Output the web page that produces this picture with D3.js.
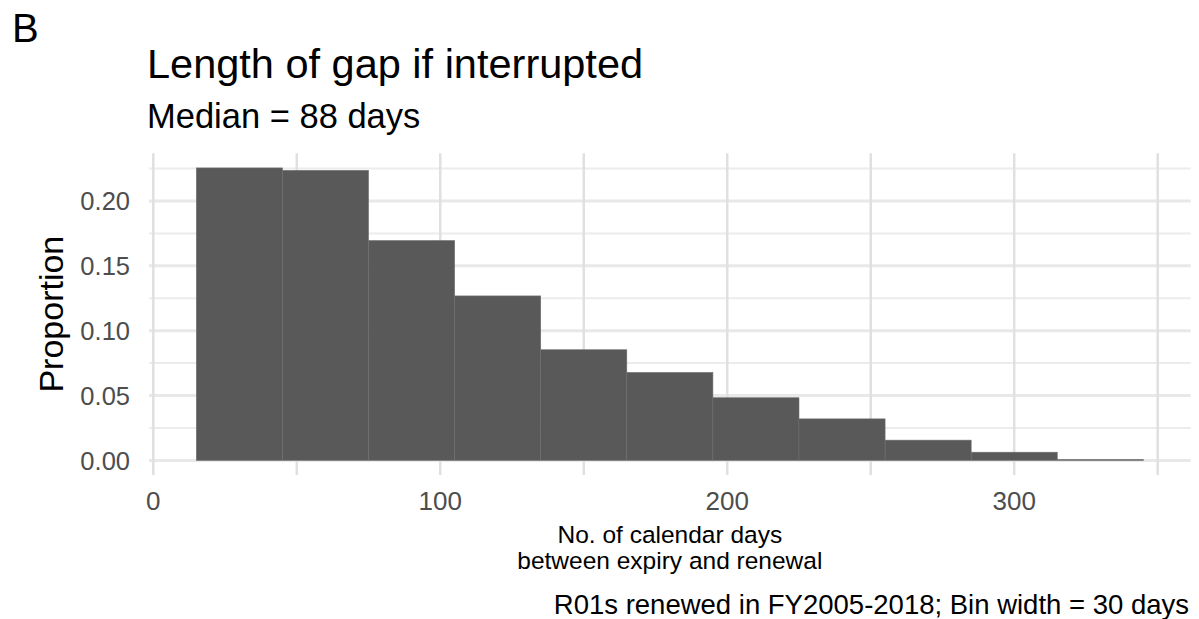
<!DOCTYPE html>
<html>
<head>
<meta charset="utf-8">
<script src="https://cdn.jsdelivr.net/npm/d3@7"></script>
<style>
  html, body { margin: 0; padding: 0; background: #fff; }
  svg { display: block; }
  text { font-family: "Liberation Sans", Arial, Helvetica, sans-serif; }
</style>
</head>
<body>
<svg id="chart" width="1199" height="619"></svg>
<script>
// ---- data ----
const binStarts = [15, 45, 75, 105, 135, 165, 195, 225, 255, 285, 315];
const binWidth = 30;
const proportions = [0.2255, 0.2236, 0.1695, 0.1268, 0.0853, 0.0678, 0.0483, 0.0320, 0.0156, 0.0063, 0.0007];
const xMajorTicks = [0, 100, 200, 300];
const xMinorTicks = [50, 150, 250, 350];
const yMajorTicks = [0, 0.05, 0.10, 0.15, 0.20];
const yMinorTicks = [0.025, 0.075, 0.125, 0.175, 0.225];
const yTickLabels = ["0.00", "0.05", "0.10", "0.15", "0.20"];
const panelTag = "B";
const titleText = "Length of gap if interrupted";
const subtitleText = "Median = 88 days";
const yTitle = "Proportion";
const xTitleLines = ["No. of calendar days", "between expiry and renewal"];
const captionText = "R01s renewed in FY2005-2018; Bin width = 30 days";

// ---- layout ----
const panel = { left: 149, right: 1190.7, top: 153.3, bottom: 475 };
const svg = d3.select("#chart");

const xMin = d3.min(binStarts), xMax = d3.max(binStarts) + binWidth;
const xPad = (xMax - xMin) * 0.05;
const x = d3.scaleLinear().domain([xMin - xPad, xMax + xPad]).range([panel.left, panel.right]);
const yMaxV = d3.max(proportions);
const y = d3.scaleLinear().domain([-0.05 * yMaxV, 1.05 * yMaxV]).range([panel.bottom, panel.top]);

// grid
const grid = svg.append("g");
grid.selectAll("line.hmin").data(yMinorTicks).join("line")
  .attr("x1", panel.left).attr("x2", panel.right)
  .attr("y1", d => y(d)).attr("y2", d => y(d))
  .attr("stroke", "#ececec").attr("stroke-width", 2);
grid.selectAll("line.hmaj").data(yMajorTicks).join("line")
  .attr("x1", panel.left).attr("x2", panel.right)
  .attr("y1", d => y(d)).attr("y2", d => y(d))
  .attr("stroke", "#e8e8e8").attr("stroke-width", 3);
grid.selectAll("line.vmin").data(xMinorTicks).join("line")
  .attr("y1", panel.top).attr("y2", panel.bottom)
  .attr("x1", d => x(d)).attr("x2", d => x(d))
  .attr("stroke", "#e0e0e0").attr("stroke-width", 2.5);
grid.selectAll("line.vmaj").data(xMajorTicks).join("line")
  .attr("y1", panel.top).attr("y2", panel.bottom)
  .attr("x1", d => x(d)).attr("x2", d => x(d))
  .attr("stroke", "#e0e0e0").attr("stroke-width", 2.5);

// bars
svg.append("g").selectAll("rect").data(binStarts).join("rect")
  .attr("x", d => x(d))
  .attr("width", d => x(d + binWidth) - x(d))
  .attr("y", (d, i) => y(proportions[i]))
  .attr("height", (d, i) => y(0) - y(proportions[i]))
  .attr("fill", "#595959")
  .attr("stroke", "#6e6e6e")
  .attr("stroke-width", 0.6);

// y axis labels
svg.append("g").selectAll("text").data(yMajorTicks).join("text")
  .attr("x", 130).attr("y", d => y(d))
  .attr("dy", "0.36em")
  .attr("text-anchor", "end")
  .attr("font-size", 25.5)
  .attr("fill", "#4d4d4d")
  .text((d, i) => yTickLabels[i]);

// x axis labels
svg.append("g").selectAll("text").data(xMajorTicks).join("text")
  .attr("x", d => x(d)).attr("y", 510)
  .attr("text-anchor", "middle")
  .attr("font-size", 26)
  .attr("fill", "#4d4d4d")
  .text(d => d3.format("d")(d));

// y title
svg.append("text")
  .attr("transform", `translate(63,${(panel.top + panel.bottom) / 2}) rotate(-90)`)
  .attr("text-anchor", "middle")
  .attr("font-size", 34)
  .attr("fill", "#000")
  .text(yTitle);

// x title
svg.append("g").selectAll("text").data(xTitleLines).join("text")
  .attr("x", (panel.left + panel.right) / 2)
  .attr("y", (d, i) => 543 + i * 26)
  .attr("text-anchor", "middle")
  .attr("font-size", 24.5)
  .attr("fill", "#000")
  .text(d => d);

// titles
svg.append("text").attr("x", 12).attr("y", 42)
  .attr("font-size", 40).attr("fill", "#000").text(panelTag);
svg.append("text").attr("x", 147).attr("y", 78)
  .attr("font-size", 41.5).attr("fill", "#000").text(titleText);
svg.append("text").attr("x", 147).attr("y", 128)
  .attr("font-size", 34.5).attr("fill", "#000").text(subtitleText);

// caption
svg.append("text").attr("x", 1189).attr("y", 614)
  .attr("text-anchor", "end")
  .attr("font-size", 27.5).attr("fill", "#000").text(captionText);
</script>
</body>
</html>
